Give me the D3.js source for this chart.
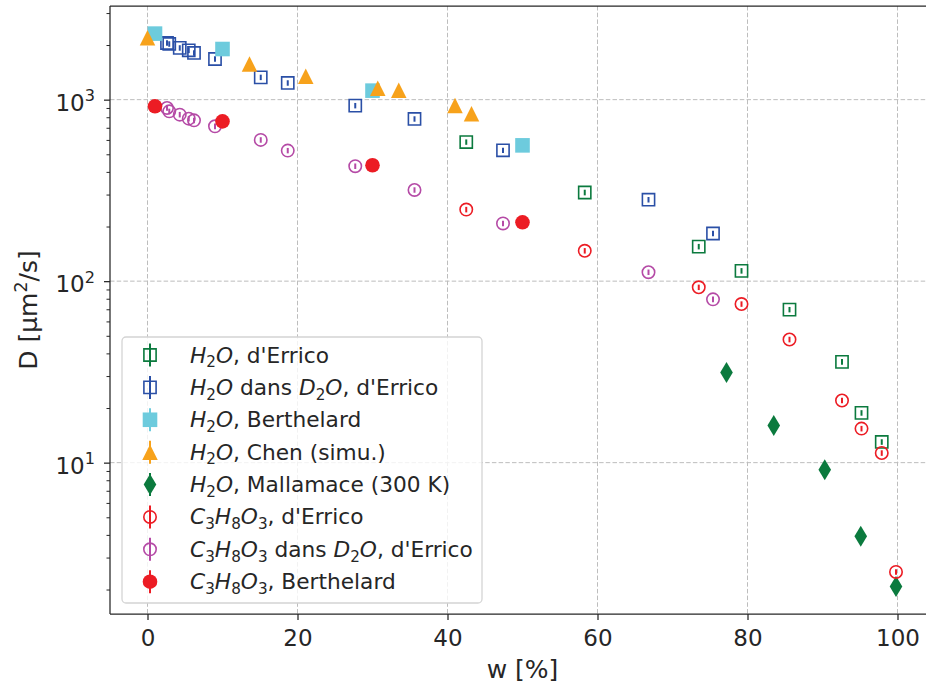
<!DOCTYPE html>
<html><head><meta charset="utf-8">
<script src="https://cdn.jsdelivr.net/npm/d3@7"></script>
<style>body{margin:0;background:#fff} svg{display:block;font-family:"DejaVu Sans",sans-serif}</style>
</head><body><svg id="chart" width="926" height="690"></svg>
<script>
// ---------------- data ----------------
const wH2ODErrico = [42.5, 58.3, 73.5, 79.2, 85.6, 92.6, 95.2, 97.9];
const dH2ODErrico = [584, 308, 155, 114, 69.7, 35.9, 18.8, 13.0];
const eH2ODErrico = [20, 11, 5.4, 4.0, 2.4, 1.3, 0.66, 0.46];

const wD2O = [2.6, 2.9, 4.3, 5.5, 6.2, 9.0, 15.1, 18.7, 27.7, 35.6, 47.4, 66.8, 75.4];
const dH2OinD2O = [2052, 2027, 1928, 1870, 1808, 1675, 1327, 1236, 927, 783, 526, 281, 183];
const eH2OinD2O = [72, 71, 67, 65, 63, 59, 46, 43, 32, 27, 18, 9.8, 6.4];

const wBerthelard = [1, 10, 30, 50];
const dH2OBerthelard = [2311, 1901, 1121, 560];

const wChen = [0, 13.6, 21.1, 30.7, 33.5, 41.0, 43.2];
const dH2OChen = [2196, 1573, 1344, 1154, 1125, 930, 837];

const wMallamace = [77.2, 83.5, 90.3, 95.1, 99.8];
const dH2OMallamace = [31.4, 16.0, 9.15, 3.93, 2.08];

const wGlyDErrico = [42.5, 58.3, 73.5, 79.2, 85.6, 92.6, 95.2, 97.9, 99.8];
const dGlyDErrico = [248, 147, 92.5, 74.8, 47.7, 22.0, 15.4, 11.3, 2.50];
const eGlyDErrico = [8.7, 5.1, 3.2, 2.6, 1.7, 0.77, 0.54, 0.40, 0.09];

const dGlyInD2O = [900, 862, 827, 786, 769, 713, 600, 524, 430, 318, 208, 112, 79.4];
const eGlyInD2O = [32, 30, 29, 28, 27, 25, 21, 18, 15, 11, 7.3, 3.9, 2.8];

const dGlyBerthelard = [919, 759, 435, 211];

const xTicks = [0, 20, 40, 60, 80, 100];
const yMajorTicks = [10, 100, 1000];
const yMinorTicks = [2,3,4,5,6,7,8,9,20,30,40,50,60,70,80,90,200,300,400,500,600,700,800,900,2000,3000];

const labels = [
  "$H_2O$, d'Errico",
  "$H_2O$ dans $D_2O$, d'Errico",
  "$H_2O$, Berthelard",
  "$H_2O$, Chen (simu.)",
  "$H_2O$, Mallamace (300 K)",
  "$C_3H_8O_3$, d'Errico",
  "$C_3H_8O_3$ dans $D_2O$, d'Errico",
  "$C_3H_8O_3$, Berthelard"
];

// ---------------- styling ----------------
const W = 926, H = 690;
const M = {left: 110, right: 935, top: 6, bottom: 614};
const tickFont = 23, labelFont = 25, legendFont = 21.7;
const C = {
  green: "#0b7a3e", blue: "#2a4fa6", cyan: "#6dcbdd", orange: "#f7a21b",
  red: "#ec1c24", purple: "#b54aa6"
};

const triUp = {draw(ctx, size){ const s = Math.sqrt(size); ctx.moveTo(0,-s/2); ctx.lineTo(s/2,s/2); ctx.lineTo(-s/2,s/2); ctx.closePath(); }};
const thinDiamond = {draw(ctx, size){ const h = Math.sqrt(size); const w = h*0.6; ctx.moveTo(0,-h/2); ctx.lineTo(w/2,0); ctx.lineTo(0,h/2); ctx.lineTo(-w/2,0); ctx.closePath(); }};

const series = [
  {w: wH2ODErrico, d: dH2ODErrico, e: eH2ODErrico, color: C.green, type: d3.symbolSquare, size: 12.2*12.2, open: true},
  {w: wD2O, d: dH2OinD2O, e: eH2OinD2O, color: C.blue, type: d3.symbolSquare, size: 12.2*12.2, open: true},
  {w: wBerthelard, d: dH2OBerthelard, e: null, color: C.cyan, type: d3.symbolSquare, size: 14.6*14.6, open: false},
  {w: wChen, d: dH2OChen, e: null, color: C.orange, type: triUp, size: 15.5*15.5, open: false},
  {w: wMallamace, d: dH2OMallamace, e: null, color: C.green, type: thinDiamond, size: 21*21, open: false},
  {w: wGlyDErrico, d: dGlyDErrico, e: eGlyDErrico, color: C.red, type: d3.symbolCircle, size: Math.PI*6.2*6.2, open: true},
  {w: wD2O, d: dGlyInD2O, e: eGlyInD2O, color: C.purple, type: d3.symbolCircle, size: Math.PI*6.2*6.2, open: true},
  {w: wBerthelard, d: dGlyBerthelard, e: null, color: C.red, type: d3.symbolCircle, size: Math.PI*7.3*7.3, open: false}
];

const svg = d3.select("#chart");
svg.append("rect").attr("width", W).attr("height", H).attr("fill", "#fff");

const x = d3.scaleLinear().domain([-5, 105]).range([M.left, M.right]);
const y = d3.scaleLog().domain([1.466, 3281]).range([M.bottom, M.top]);

// grid
const grid = svg.append("g").attr("stroke", "#bdbdbd").attr("stroke-width", 1).attr("stroke-dasharray", "4.5,2.2");
grid.selectAll(".gx").data(xTicks).join("line")
  .attr("x1", d => x(d)).attr("x2", d => x(d)).attr("y1", M.top).attr("y2", M.bottom);
grid.selectAll(".gy").data(yMajorTicks).join("line")
  .attr("y1", d => y(d)).attr("y2", d => y(d)).attr("x1", M.left).attr("x2", M.right);

// axes
const axisColor = "#262626";
const gx = svg.append("g").attr("transform", `translate(0,${M.bottom})`)
  .call(d3.axisBottom(x).tickValues(xTicks).tickSize(6).tickSizeOuter(0).tickPadding(10).tickFormat(d3.format("d")));
gx.selectAll("text").attr("font-size", tickFont).attr("fill", axisColor).attr("font-family", "DejaVu Sans");
gx.selectAll("line").attr("stroke", axisColor).attr("stroke-width", 1.25);
gx.select(".domain").remove();

const gyMinor = svg.append("g").attr("transform", `translate(${M.left},0)`)
  .call(d3.axisLeft(y).tickValues(yMinorTicks).tickSize(3.5).tickSizeOuter(0).tickFormat(""));
gyMinor.selectAll("line").attr("stroke", axisColor).attr("stroke-width", 1);
gyMinor.select(".domain").remove();

const gy = svg.append("g").attr("transform", `translate(${M.left},0)`)
  .call(d3.axisLeft(y).tickValues(yMajorTicks).tickSize(6).tickSizeOuter(0).tickPadding(9).tickFormat(() => ""));
gy.selectAll("line").attr("stroke", axisColor).attr("stroke-width", 1.25);
gy.select(".domain").remove();
gy.selectAll(".tick text").each(function(d){
  const t = d3.select(this).attr("font-size", tickFont).attr("fill", axisColor).attr("font-family", "DejaVu Sans").attr("dy", "0.46em");
  t.text(null);
  t.append("tspan").text("10");
  t.append("tspan").attr("font-size", tickFont*0.7).attr("dy", -tickFont*0.42).text(String(Math.round(Math.log10(d))));
});

// spines
const sp = svg.append("g").attr("stroke", axisColor).attr("stroke-width", 1.25).attr("fill", "none");
sp.append("line").attr("x1", M.left).attr("x2", M.left).attr("y1", M.top).attr("y2", M.bottom);
sp.append("line").attr("x1", M.left).attr("x2", M.right).attr("y1", M.bottom).attr("y2", M.bottom);
sp.append("line").attr("x1", M.left).attr("x2", M.right).attr("y1", M.top).attr("y2", M.top);
sp.append("line").attr("x1", M.right).attr("x2", M.right).attr("y1", M.top).attr("y2", M.bottom);

// axis labels
svg.append("text").attr("x", (M.left + M.right)/2).attr("y", 678).attr("text-anchor", "middle")
  .attr("font-size", labelFont).attr("fill", axisColor).text("w [%]");
const yl = svg.append("text").attr("transform", `translate(37,${(M.top+M.bottom)/2}) rotate(-90)`)
  .attr("text-anchor", "middle").attr("font-size", labelFont).attr("fill", axisColor);
yl.append("tspan").text("D [µm");
yl.append("tspan").attr("font-size", labelFont*0.7).attr("dy", -labelFont*0.4).text("2");
yl.append("tspan").attr("dy", labelFont*0.4).text("/s]");

// data marks
const marks = svg.append("g");
series.forEach(s => {
  const g = marks.append("g");
  const pts = s.w.map((w, i) => ({w, d: s.d[i], e: s.e ? s.e[i] : 0}));
  if (s.e) {
    g.selectAll("line").data(pts).join("line")
      .attr("x1", p => x(p.w)).attr("x2", p => x(p.w))
      .attr("y1", p => y(p.d - p.e)).attr("y2", p => y(p.d + p.e))
      .attr("stroke", s.color).attr("stroke-width", 2);
  }
  g.selectAll("path").data(pts).join("path")
    .attr("transform", p => `translate(${x(p.w)},${y(p.d)})`)
    .attr("d", d3.symbol().type(s.type).size(s.size))
    .attr("fill", s.open ? "none" : s.color)
    .attr("stroke", s.open ? s.color : "none")
    .attr("stroke-width", s.open ? 1.6 : 0);
});

// legend
function mathText(sel, str, fs){
  const parts = str.split("$");
  let shift = 0;
  const add = (txt, opts) => {
    const t = sel.append("tspan").text(txt);
    let target = opts.sub ? fs*0.22 : 0;
    if (target !== shift) { t.attr("dy", target - shift); shift = target; }
    if (opts.sub) t.attr("font-size", fs*0.7);
    if (opts.it) t.attr("font-style", "italic");
  };
  parts.forEach((p, i) => {
    if (i % 2 === 0) { if (p) add(p, {}); }
    else {
      for (let k = 0; k < p.length; k++) {
        if (p[k] === "_") { add(p[k+1], {sub: true}); k++; }
        else add(p[k], {it: true});
      }
    }
  });
}

const lg = svg.append("g");
lg.append("rect").attr("x", 122).attr("y", 337).attr("width", 360).attr("height", 266).attr("rx", 4)
  .attr("fill", "#fff").attr("fill-opacity", 0.8).attr("stroke", "#d4d4d4").attr("stroke-width", 1.3);
const rowY = d3.scaleLinear().domain([0, 7]).range([355, 581.7]);
series.forEach((s, i) => {
  const cy = rowY(i);
  lg.append("line").attr("x1", 150).attr("x2", 150).attr("y1", cy - 11.5).attr("y2", cy + 11.5)
    .attr("stroke", s.color).attr("stroke-width", 2);
  lg.append("path").attr("transform", `translate(150,${cy})`)
    .attr("d", d3.symbol().type(s.type).size(s.size))
    .attr("fill", s.open ? "#fff" : s.color).attr("fill-opacity", s.open ? 0 : 1)
    .attr("stroke", s.open ? s.color : "none").attr("stroke-width", s.open ? 1.6 : 0);
  const t = lg.append("text").attr("x", 190).attr("y", cy + 7.5).attr("font-size", legendFont).attr("fill", axisColor);
  mathText(t, labels[i], legendFont);
});
</script></body></html>
